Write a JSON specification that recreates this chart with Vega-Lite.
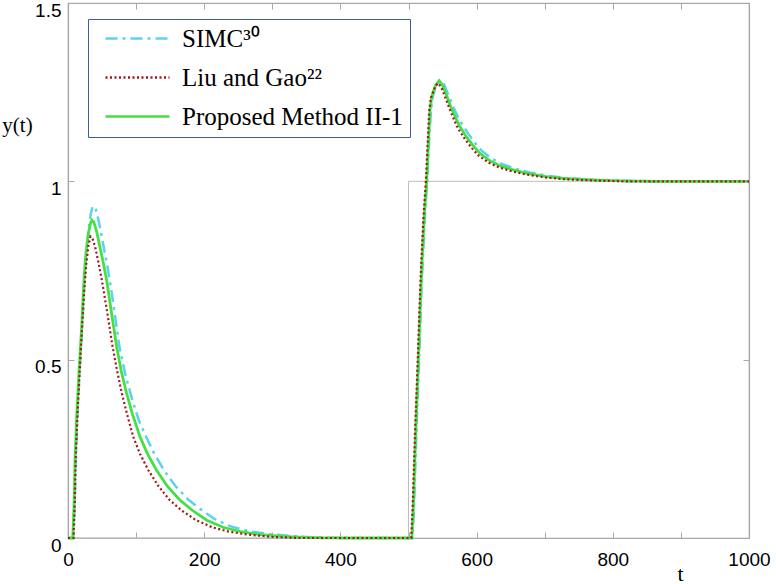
{
  "$schema": "https://vega.github.io/schema/vega-lite/v6.json",
  "width": 681,
  "height": 535,
  "autosize": {"type": "none"},
  "padding": {"left": 68, "top": 3, "right": 27, "bottom": 46},
  "background": "white",
  "config": {
    "view": {"stroke": "#a8a8a8", "strokeWidth": 1.2},
    "axis": {"grid": false, "domainColor": "#a8a8a8", "tickColor": "#a8a8a8", "domainWidth": 1.2, "tickWidth": 1, "labelColor": "#000000", "labelFont": "Liberation Sans", "labelFontSize": 19, "titleColor": "#000000", "titleFont": "Liberation Serif", "titleFontWeight": "normal"},
    "legend": {"orient": "none", "legendX": 20, "legendY": 16, "title": null, "strokeColor": "#3d5c9c", "fillColor": "white", "padding": 7, "symbolType": "M-3.2,0H3.2", "symbolSize": 400, "symbolOffset": 30, "labelOffset": 32, "labelLimit": 400, "labelFont": "Liberation Serif", "labelFontSize": 25, "labelColor": "#000000", "rowPadding": 13, "symbolStrokeWidth": 2.5, "labelBaseline": "middle"}
  },
  "datasets": {
    "ref": [
      {"t": 0, "v": 0}, {"t": 500, "v": 0}, {"t": 500, "v": 1}, {"t": 1000, "v": 1}
    ],
    "resp": [
      {"series": "Proposed Method II-1", "t": 0, "v": 0},
      {"series": "Proposed Method II-1", "t": 7, "v": 0},
      {"series": "Proposed Method II-1", "t": 9, "v": 0.1},
      {"series": "Proposed Method II-1", "t": 10.3, "v": 0.22},
      {"series": "Proposed Method II-1", "t": 13, "v": 0.35},
      {"series": "Proposed Method II-1", "t": 16.6, "v": 0.48},
      {"series": "Proposed Method II-1", "t": 20, "v": 0.59},
      {"series": "Proposed Method II-1", "t": 22.5, "v": 0.69},
      {"series": "Proposed Method II-1", "t": 25, "v": 0.77},
      {"series": "Proposed Method II-1", "t": 27.4, "v": 0.817},
      {"series": "Proposed Method II-1", "t": 30, "v": 0.855},
      {"series": "Proposed Method II-1", "t": 33, "v": 0.882},
      {"series": "Proposed Method II-1", "t": 35, "v": 0.891},
      {"series": "Proposed Method II-1", "t": 38, "v": 0.885},
      {"series": "Proposed Method II-1", "t": 42, "v": 0.86},
      {"series": "Proposed Method II-1", "t": 47, "v": 0.815},
      {"series": "Proposed Method II-1", "t": 52, "v": 0.77},
      {"series": "Proposed Method II-1", "t": 56.8, "v": 0.723},
      {"series": "Proposed Method II-1", "t": 64, "v": 0.63},
      {"series": "Proposed Method II-1", "t": 71.5, "v": 0.536},
      {"series": "Proposed Method II-1", "t": 78, "v": 0.47},
      {"series": "Proposed Method II-1", "t": 86, "v": 0.406},
      {"series": "Proposed Method II-1", "t": 95, "v": 0.345},
      {"series": "Proposed Method II-1", "t": 105.7, "v": 0.284},
      {"series": "Proposed Method II-1", "t": 117, "v": 0.235},
      {"series": "Proposed Method II-1", "t": 130, "v": 0.19},
      {"series": "Proposed Method II-1", "t": 146, "v": 0.145},
      {"series": "Proposed Method II-1", "t": 164, "v": 0.107},
      {"series": "Proposed Method II-1", "t": 183, "v": 0.077},
      {"series": "Proposed Method II-1", "t": 203.6, "v": 0.05},
      {"series": "Proposed Method II-1", "t": 228, "v": 0.03},
      {"series": "Proposed Method II-1", "t": 252.6, "v": 0.018},
      {"series": "Proposed Method II-1", "t": 280, "v": 0.01},
      {"series": "Proposed Method II-1", "t": 320, "v": 0.004},
      {"series": "Proposed Method II-1", "t": 360, "v": 0.001},
      {"series": "Proposed Method II-1", "t": 400, "v": 0},
      {"series": "Proposed Method II-1", "t": 505, "v": 0},
      {"series": "Proposed Method II-1", "t": 507, "v": 0.08},
      {"series": "Proposed Method II-1", "t": 509, "v": 0.2},
      {"series": "Proposed Method II-1", "t": 511, "v": 0.32},
      {"series": "Proposed Method II-1", "t": 513.5, "v": 0.443},
      {"series": "Proposed Method II-1", "t": 516, "v": 0.58},
      {"series": "Proposed Method II-1", "t": 518, "v": 0.69},
      {"series": "Proposed Method II-1", "t": 520, "v": 0.78},
      {"series": "Proposed Method II-1", "t": 523, "v": 0.9},
      {"series": "Proposed Method II-1", "t": 526.7, "v": 1.0},
      {"series": "Proposed Method II-1", "t": 529, "v": 1.1},
      {"series": "Proposed Method II-1", "t": 531.6, "v": 1.2},
      {"series": "Proposed Method II-1", "t": 534, "v": 1.235},
      {"series": "Proposed Method II-1", "t": 536.5, "v": 1.252},
      {"series": "Proposed Method II-1", "t": 540, "v": 1.27},
      {"series": "Proposed Method II-1", "t": 545, "v": 1.282},
      {"series": "Proposed Method II-1", "t": 550, "v": 1.27},
      {"series": "Proposed Method II-1", "t": 556, "v": 1.24},
      {"series": "Proposed Method II-1", "t": 563, "v": 1.205},
      {"series": "Proposed Method II-1", "t": 570, "v": 1.175},
      {"series": "Proposed Method II-1", "t": 575.6, "v": 1.153},
      {"series": "Proposed Method II-1", "t": 585, "v": 1.125},
      {"series": "Proposed Method II-1", "t": 595, "v": 1.1},
      {"series": "Proposed Method II-1", "t": 605, "v": 1.078},
      {"series": "Proposed Method II-1", "t": 620, "v": 1.057},
      {"series": "Proposed Method II-1", "t": 635, "v": 1.043},
      {"series": "Proposed Method II-1", "t": 654, "v": 1.032},
      {"series": "Proposed Method II-1", "t": 675, "v": 1.022},
      {"series": "Proposed Method II-1", "t": 703, "v": 1.013},
      {"series": "Proposed Method II-1", "t": 730, "v": 1.008},
      {"series": "Proposed Method II-1", "t": 752, "v": 1.006},
      {"series": "Proposed Method II-1", "t": 780, "v": 1.003},
      {"series": "Proposed Method II-1", "t": 820, "v": 1.001},
      {"series": "Proposed Method II-1", "t": 860, "v": 1.0},
      {"series": "Proposed Method II-1", "t": 1000, "v": 1.0},

      {"series": "SIMC³⁰", "t": 0, "v": 0},
      {"series": "SIMC³⁰", "t": 8, "v": 0},
      {"series": "SIMC³⁰", "t": 10, "v": 0.1},
      {"series": "SIMC³⁰", "t": 11.5, "v": 0.22},
      {"series": "SIMC³⁰", "t": 14, "v": 0.35},
      {"series": "SIMC³⁰", "t": 17.5, "v": 0.48},
      {"series": "SIMC³⁰", "t": 21, "v": 0.6},
      {"series": "SIMC³⁰", "t": 24, "v": 0.71},
      {"series": "SIMC³⁰", "t": 27, "v": 0.8},
      {"series": "SIMC³⁰", "t": 30, "v": 0.86},
      {"series": "SIMC³⁰", "t": 33, "v": 0.905},
      {"series": "SIMC³⁰", "t": 36, "v": 0.928},
      {"series": "SIMC³⁰", "t": 39, "v": 0.93},
      {"series": "SIMC³⁰", "t": 42, "v": 0.915},
      {"series": "SIMC³⁰", "t": 46, "v": 0.88},
      {"series": "SIMC³⁰", "t": 52, "v": 0.82},
      {"series": "SIMC³⁰", "t": 58, "v": 0.76},
      {"series": "SIMC³⁰", "t": 64, "v": 0.69},
      {"series": "SIMC³⁰", "t": 70, "v": 0.61},
      {"series": "SIMC³⁰", "t": 75.5, "v": 0.536},
      {"series": "SIMC³⁰", "t": 84, "v": 0.46},
      {"series": "SIMC³⁰", "t": 94, "v": 0.39},
      {"series": "SIMC³⁰", "t": 104, "v": 0.33},
      {"series": "SIMC³⁰", "t": 114.7, "v": 0.284},
      {"series": "SIMC³⁰", "t": 127, "v": 0.235},
      {"series": "SIMC³⁰", "t": 141, "v": 0.19},
      {"series": "SIMC³⁰", "t": 158, "v": 0.145},
      {"series": "SIMC³⁰", "t": 177, "v": 0.107},
      {"series": "SIMC³⁰", "t": 197, "v": 0.077},
      {"series": "SIMC³⁰", "t": 218, "v": 0.05},
      {"series": "SIMC³⁰", "t": 243, "v": 0.03},
      {"series": "SIMC³⁰", "t": 268, "v": 0.018},
      {"series": "SIMC³⁰", "t": 300, "v": 0.01},
      {"series": "SIMC³⁰", "t": 340, "v": 0.004},
      {"series": "SIMC³⁰", "t": 380, "v": 0.001},
      {"series": "SIMC³⁰", "t": 420, "v": 0},
      {"series": "SIMC³⁰", "t": 506, "v": 0},
      {"series": "SIMC³⁰", "t": 508, "v": 0.08},
      {"series": "SIMC³⁰", "t": 510, "v": 0.2},
      {"series": "SIMC³⁰", "t": 512, "v": 0.32},
      {"series": "SIMC³⁰", "t": 514.5, "v": 0.443},
      {"series": "SIMC³⁰", "t": 517, "v": 0.58},
      {"series": "SIMC³⁰", "t": 519, "v": 0.69},
      {"series": "SIMC³⁰", "t": 521, "v": 0.78},
      {"series": "SIMC³⁰", "t": 524, "v": 0.9},
      {"series": "SIMC³⁰", "t": 527.5, "v": 1.0},
      {"series": "SIMC³⁰", "t": 530, "v": 1.1},
      {"series": "SIMC³⁰", "t": 533, "v": 1.2},
      {"series": "SIMC³⁰", "t": 536, "v": 1.24},
      {"series": "SIMC³⁰", "t": 539, "v": 1.26},
      {"series": "SIMC³⁰", "t": 542, "v": 1.274},
      {"series": "SIMC³⁰", "t": 547, "v": 1.282},
      {"series": "SIMC³⁰", "t": 552, "v": 1.272},
      {"series": "SIMC³⁰", "t": 558, "v": 1.245},
      {"series": "SIMC³⁰", "t": 565, "v": 1.212},
      {"series": "SIMC³⁰", "t": 572, "v": 1.183},
      {"series": "SIMC³⁰", "t": 578, "v": 1.162},
      {"series": "SIMC³⁰", "t": 588, "v": 1.133},
      {"series": "SIMC³⁰", "t": 598, "v": 1.107},
      {"series": "SIMC³⁰", "t": 608, "v": 1.085},
      {"series": "SIMC³⁰", "t": 623, "v": 1.063},
      {"series": "SIMC³⁰", "t": 638, "v": 1.048},
      {"series": "SIMC³⁰", "t": 657, "v": 1.035},
      {"series": "SIMC³⁰", "t": 678, "v": 1.025},
      {"series": "SIMC³⁰", "t": 706, "v": 1.015},
      {"series": "SIMC³⁰", "t": 733, "v": 1.009},
      {"series": "SIMC³⁰", "t": 755, "v": 1.006},
      {"series": "SIMC³⁰", "t": 783, "v": 1.003},
      {"series": "SIMC³⁰", "t": 823, "v": 1.001},
      {"series": "SIMC³⁰", "t": 865, "v": 1.0},
      {"series": "SIMC³⁰", "t": 1000, "v": 1.0},

      {"series": "Liu and Gao²²", "t": 0, "v": 0},
      {"series": "Liu and Gao²²", "t": 8, "v": 0},
      {"series": "Liu and Gao²²", "t": 10, "v": 0.1},
      {"series": "Liu and Gao²²", "t": 11.3, "v": 0.22},
      {"series": "Liu and Gao²²", "t": 14, "v": 0.35},
      {"series": "Liu and Gao²²", "t": 17.5, "v": 0.48},
      {"series": "Liu and Gao²²", "t": 21, "v": 0.6},
      {"series": "Liu and Gao²²", "t": 24, "v": 0.7},
      {"series": "Liu and Gao²²", "t": 27, "v": 0.77},
      {"series": "Liu and Gao²²", "t": 30, "v": 0.82},
      {"series": "Liu and Gao²²", "t": 33, "v": 0.845},
      {"series": "Liu and Gao²²", "t": 36, "v": 0.84},
      {"series": "Liu and Gao²²", "t": 40, "v": 0.815},
      {"series": "Liu and Gao²²", "t": 45, "v": 0.77},
      {"series": "Liu and Gao²²", "t": 50, "v": 0.72},
      {"series": "Liu and Gao²²", "t": 57, "v": 0.64},
      {"series": "Liu and Gao²²", "t": 65.5, "v": 0.536},
      {"series": "Liu and Gao²²", "t": 72, "v": 0.47},
      {"series": "Liu and Gao²²", "t": 79, "v": 0.406},
      {"series": "Liu and Gao²²", "t": 87, "v": 0.345},
      {"series": "Liu and Gao²²", "t": 95.7, "v": 0.284},
      {"series": "Liu and Gao²²", "t": 106, "v": 0.235},
      {"series": "Liu and Gao²²", "t": 118, "v": 0.19},
      {"series": "Liu and Gao²²", "t": 133, "v": 0.145},
      {"series": "Liu and Gao²²", "t": 149, "v": 0.107},
      {"series": "Liu and Gao²²", "t": 167, "v": 0.077},
      {"series": "Liu and Gao²²", "t": 188, "v": 0.05},
      {"series": "Liu and Gao²²", "t": 212, "v": 0.03},
      {"series": "Liu and Gao²²", "t": 236, "v": 0.018},
      {"series": "Liu and Gao²²", "t": 262, "v": 0.01},
      {"series": "Liu and Gao²²", "t": 300, "v": 0.003},
      {"series": "Liu and Gao²²", "t": 340, "v": 0},
      {"series": "Liu and Gao²²", "t": 504, "v": 0},
      {"series": "Liu and Gao²²", "t": 506, "v": 0.08},
      {"series": "Liu and Gao²²", "t": 508, "v": 0.2},
      {"series": "Liu and Gao²²", "t": 510, "v": 0.32},
      {"series": "Liu and Gao²²", "t": 512.5, "v": 0.443},
      {"series": "Liu and Gao²²", "t": 515, "v": 0.58},
      {"series": "Liu and Gao²²", "t": 517, "v": 0.69},
      {"series": "Liu and Gao²²", "t": 519, "v": 0.78},
      {"series": "Liu and Gao²²", "t": 522, "v": 0.9},
      {"series": "Liu and Gao²²", "t": 525.5, "v": 1.0},
      {"series": "Liu and Gao²²", "t": 528, "v": 1.1},
      {"series": "Liu and Gao²²", "t": 530.5, "v": 1.2},
      {"series": "Liu and Gao²²", "t": 533, "v": 1.235},
      {"series": "Liu and Gao²²", "t": 536, "v": 1.25},
      {"series": "Liu and Gao²²", "t": 539, "v": 1.265},
      {"series": "Liu and Gao²²", "t": 543, "v": 1.275},
      {"series": "Liu and Gao²²", "t": 548, "v": 1.265},
      {"series": "Liu and Gao²²", "t": 554, "v": 1.235},
      {"series": "Liu and Gao²²", "t": 561, "v": 1.2},
      {"series": "Liu and Gao²²", "t": 568, "v": 1.168},
      {"series": "Liu and Gao²²", "t": 573, "v": 1.147},
      {"series": "Liu and Gao²²", "t": 583, "v": 1.118},
      {"series": "Liu and Gao²²", "t": 593, "v": 1.093},
      {"series": "Liu and Gao²²", "t": 603, "v": 1.072},
      {"series": "Liu and Gao²²", "t": 618, "v": 1.052},
      {"series": "Liu and Gao²²", "t": 633, "v": 1.039},
      {"series": "Liu and Gao²²", "t": 652, "v": 1.028},
      {"series": "Liu and Gao²²", "t": 673, "v": 1.019},
      {"series": "Liu and Gao²²", "t": 701, "v": 1.011},
      {"series": "Liu and Gao²²", "t": 728, "v": 1.006},
      {"series": "Liu and Gao²²", "t": 750, "v": 1.004},
      {"series": "Liu and Gao²²", "t": 778, "v": 1.002},
      {"series": "Liu and Gao²²", "t": 818, "v": 1.0},
      {"series": "Liu and Gao²²", "t": 1000, "v": 1.0}
    ]
  },
  "resolve": {"axis": {"x": "independent", "y": "independent"}},
  "layer": [
    {
      "data": {"name": "ref"},
      "mark": {"type": "line", "color": "#bdbdbd", "strokeWidth": 1},
      "encoding": {
        "x": {"field": "t", "type": "quantitative", "scale": {"domain": [0, 1000], "nice": false, "zero": false},
          "axis": {"orient": "bottom", "values": [0, 100, 200, 300, 400, 500, 600, 700, 800, 900, 1000], "format": "d", "labelExpr": "datum.value % 200 === 0 ? datum.label : ''", "tickSize": -6, "labelPadding": 18, "labelFlush": false, "labelOverlap": false, "title": "t", "titleFontSize": 22, "titleX": 612, "titleY": 35, "titleAlign": "center", "titleBaseline": "middle"}},
        "y": {"field": "v", "type": "quantitative", "scale": {"domain": [0, 1.5], "nice": false},
          "axis": {"orient": "left", "values": [0, 0.5, 1, 1.5], "format": "~g", "tickSize": -6, "labelPadding": 13, "labelOffset": 7, "labelFlush": false, "labelOverlap": false, "title": "y(t)", "titleFontSize": 21, "titleAngle": 0, "titleX": -51, "titleY": 122, "titleAlign": "center", "titleBaseline": "middle"}},
        "order": [{"field": "v", "type": "quantitative"}, {"field": "t", "type": "quantitative"}]
      }
    },
    {
      "data": {"name": "ref"},
      "mark": {"type": "line", "opacity": 0},
      "encoding": {
        "x": {"field": "t", "type": "quantitative", "axis": {"orient": "top", "values": [0, 100, 200, 300, 400, 500, 600, 700, 800, 900, 1000], "labels": false, "tickSize": -6, "title": null}},
        "y": {"field": "v", "type": "quantitative", "axis": {"orient": "right", "values": [0, 0.5, 1, 1.5], "labels": false, "tickSize": -6, "title": null}}
      }
    },
    {
      "data": {"name": "resp"},
      "transform": [{"filter": "datum.series === 'SIMC³⁰'"}],
      "mark": {"type": "line", "strokeWidth": 2.5},
      "encoding": {
        "x": {"field": "t", "type": "quantitative", "axis": null},
        "y": {"field": "v", "type": "quantitative", "axis": null},
        "color": {"field": "series", "type": "nominal", "scale": {"domain": ["SIMC³⁰", "Liu and Gao²²", "Proposed Method II-1"], "range": ["#5cd2f0", "#a8141a", "#45e045"]}, "legend": {}},
        "strokeDash": {"field": "series", "type": "nominal", "scale": {"domain": ["SIMC³⁰", "Liu and Gao²²", "Proposed Method II-1"], "range": [[12, 5, 3, 5], [2, 2.5], [1, 0]]}, "legend": {}}
      }
    },
    {
      "data": {"name": "resp"},
      "transform": [{"filter": "datum.series === 'Proposed Method II-1'"}],
      "mark": {"type": "line", "strokeWidth": 2.8},
      "encoding": {
        "x": {"field": "t", "type": "quantitative", "axis": null},
        "y": {"field": "v", "type": "quantitative", "axis": null},
        "color": {"field": "series", "type": "nominal"},
        "strokeDash": {"field": "series", "type": "nominal"}
      }
    },
    {
      "data": {"name": "resp"},
      "transform": [{"filter": "datum.series === 'Liu and Gao²²'"}],
      "mark": {"type": "line", "strokeWidth": 2.2},
      "encoding": {
        "x": {"field": "t", "type": "quantitative", "axis": null},
        "y": {"field": "v", "type": "quantitative", "axis": null},
        "color": {"field": "series", "type": "nominal"},
        "strokeDash": {"field": "series", "type": "nominal"}
      }
    }
  ]
}
